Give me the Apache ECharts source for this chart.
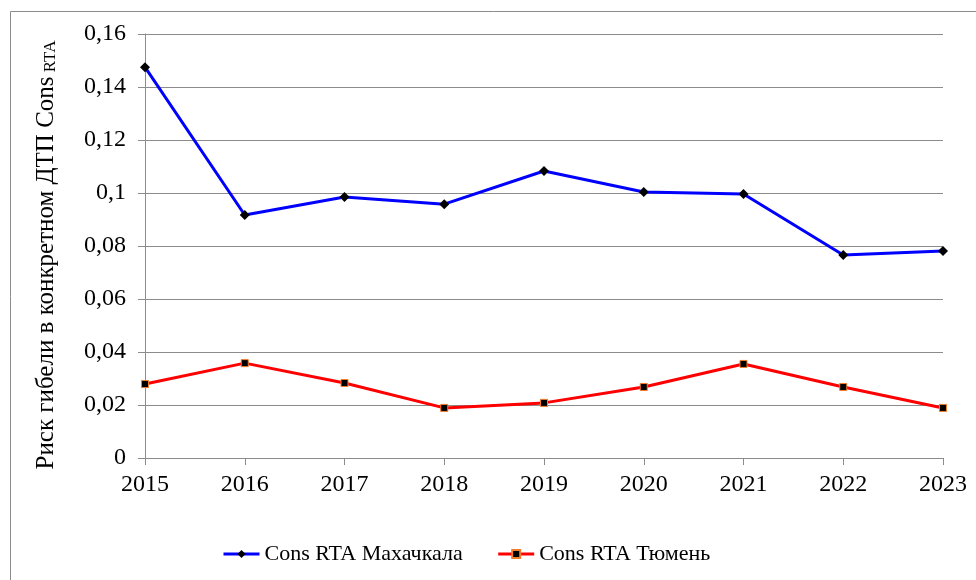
<!DOCTYPE html>
<html>
<head>
<meta charset="utf-8">
<script src="https://cdn.jsdelivr.net/npm/echarts@6/dist/echarts.min.js"></script>
<style>
  html, body { margin: 0; padding: 0; background: #fff; }
  #chart { width: 976px; height: 580px; }
</style>
</head>
<body>
<div id="chart"></div>
<script>
const years = ["2015", "2016", "2017", "2018", "2019", "2020", "2021", "2022", "2023"];
const makhachkala = [0.1475, 0.0917, 0.0985, 0.0958, 0.1083, 0.1004, 0.0996, 0.0766, 0.0781];
const tyumen = [0.0279, 0.0358, 0.0283, 0.0189, 0.0208, 0.0268, 0.0355, 0.0268, 0.0189];

const FONT = "'Liberation Serif', 'DejaVu Serif', serif";

const chart = echarts.init(document.getElementById("chart"));

chart.setOption({
  animation: false,
  textStyle: { fontFamily: FONT, color: "#000" },
  graphic: [
    {
      type: "rect",
      shape: { x: 10.5, y: 11.5, width: 1000, height: 600 },
      style: { fill: "none", stroke: "#8c8c8c", lineWidth: 1 },
      silent: true
    }
  ],
  grid: { left: 145, right: 33, top: 34, bottom: 122 },
  legend: {
    top: 538,
    left: 217,
    itemWidth: 36,
    itemHeight: 10,
    itemGap: 34,
    itemTextGap: 3,
    lineStyle: { width: 3 },
    textStyle: { fontFamily: FONT, fontSize: 22, color: "#000" },
    data: ["Cons RTA Махачкала", "Cons RTA Тюмень"]
  },
  xAxis: {
    type: "category",
    data: years,
    boundaryGap: false,
    axisLine: { lineStyle: { color: "#8c8c8c", width: 1 } },
    axisTick: { show: true, length: 7, lineStyle: { color: "#8c8c8c" } },
    axisLabel: { fontFamily: FONT, fontSize: 24, color: "#000", margin: 15 }
  },
  yAxis: {
    type: "value",
    min: 0,
    max: 0.16,
    interval: 0.02,
    name: "{a|Риск гибели в конкретном ДТП Cons}{b| RTA}",
    nameLocation: "middle",
    nameGap: 86,
    nameRotate: 90,
    nameTextStyle: {
      padding: [0, 18, 0, 0],
      rich: {
        a: { fontFamily: FONT, fontSize: 25, color: "#000" },
        b: { fontFamily: FONT, fontSize: 17, color: "#000", padding: [9, 0, 0, 0] }
      }
    },
    axisLine: { show: true, lineStyle: { color: "#8c8c8c", width: 1 } },
    axisTick: { show: true, length: 7, lineStyle: { color: "#8c8c8c" } },
    splitLine: { lineStyle: { color: "#8c8c8c", width: 1 } },
    axisLabel: {
      fontFamily: FONT,
      fontSize: 24,
      color: "#000",
      margin: 19,
      formatter: (v) => String(+v.toFixed(2)).replace(".", ",")
    }
  },
  series: [
    {
      name: "Cons RTA Махачкала",
      type: "line",
      data: makhachkala,
      symbol: "diamond",
      symbolSize: 10,
      lineStyle: { color: "#0000ff", width: 3 },
      itemStyle: { color: "#000", borderColor: "#000", borderWidth: 0 },
      color: "#0000ff"
    },
    {
      name: "Cons RTA Тюмень",
      type: "line",
      data: tyumen,
      symbol: "rect",
      symbolSize: 7,
      lineStyle: { color: "#ff0000", width: 3 },
      itemStyle: { color: "#000", borderColor: "#f07c2c", borderWidth: 1 },
      color: "#ff0000"
    }
  ]
});
</script>
</body>
</html>
